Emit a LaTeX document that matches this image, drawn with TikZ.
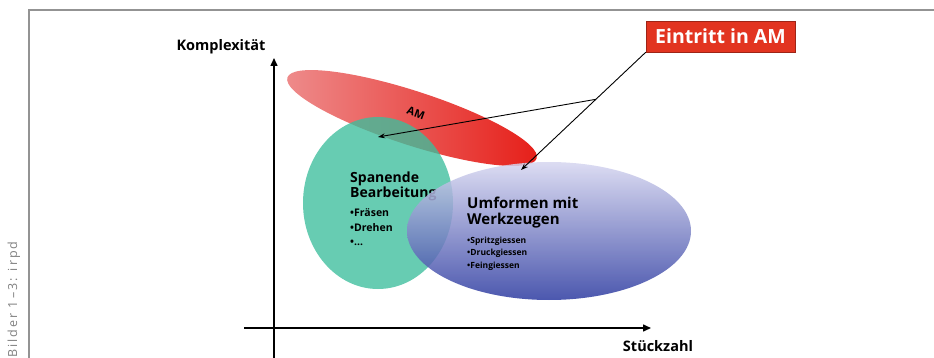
\documentclass[tikz,border=0pt]{standalone}
\usepackage{fontspec}
\setmainfont{Open Sans}
\newfontfamily\creditfont[LetterSpace=16]{Open Sans}
\usetikzlibrary{shapes.geometric,arrows.meta,calc}
\definecolor{amlight}{RGB}{238,140,140}
\definecolor{amdark}{RGB}{230,30,24}
\definecolor{spangreen}{RGB}{60,190,156}
\definecolor{umtop}{RGB}{214,214,240}
\definecolor{umbottom}{RGB}{44,58,160}
\definecolor{boxred}{RGB}{226,52,32}

\begin{document}
\begin{tikzpicture}[x=1pt,y=-1pt,
  blob/.style={ellipse, inner sep=0pt},
  axis/.style={line width=1.5pt, -{Triangle[length=8pt,width=7pt]}},
  pointer/.style={line width=0.9pt, -{Stealth[length=7pt,width=5pt]}},
  title/.style={font=\bfseries\fontsize{15}{15.5}\selectfont, align=left, anchor=west, inner sep=0pt}]
  \useasboundingbox (0,0) rectangle (934,358);
  % frame and credit
  \draw[gray!85, line width=1.2pt] (934,10) -- (29,10) -- (29,358);
  \node[rotate=90, anchor=west, gray, font=\creditfont\fontsize{12.5}{13}\selectfont] (credit) at (14,361) {Bilder 1–3: irpd};

  % the three fields
  \node[blob, rotate=-18, minimum width=262pt, minimum height=54pt,
        left color=amlight, right color=amdark] (am) at (412,118) {};
  \node[rotate=-20, font=\bfseries\fontsize{11}{12}\selectfont] (amlabel) at (416,113) {AM};
  \node[blob, minimum width=150pt, minimum height=172pt,
        fill=spangreen, fill opacity=0.78] (span) at (378,203) {};
  \node[title, font=\bfseries\fontsize{14}{15}\selectfont] (spantitle) at (350,186) {Spanende\\Bearbeitung};
  \foreach \y/\t in {213/Fräsen,228/Drehen,243/\ldots}
    \node[anchor=west, inner sep=0pt, font=\bfseries\fontsize{10.5}{11}\selectfont] at (350,\y) {\textbullet\t};
  \node[blob, minimum width=284pt, minimum height=138pt,
        top color=umtop, bottom color=umbottom, fill opacity=0.85] (umform) at (549,231) {};
  \node[title] (umtitle) at (467,212.5) {Umformen mit\\Werkzeugen};
  \foreach \y/\t in {241/Spritzgiessen,253/Druckgiessen,266/Feingiessen}
    \node[anchor=west, inner sep=0pt, font=\bfseries\fontsize{8.5}{9}\selectfont] at (467,\y) {\textbullet\t};

  % axes
  \coordinate (ybottom) at (274,358);
  \coordinate (ytop) at (274,58);
  \coordinate (xleft) at (244,328);
  \coordinate (xright) at (651,328);
  \draw[axis] (ybottom) -- (ytop);
  \draw[axis] (xleft) -- (xright);
  \node[font=\bfseries\fontsize{14.5}{15}\selectfont] (ylabel) at (221,47) {Komplexität};
  \node[font=\bfseries\fontsize{14.5}{15}\selectfont] (xlabel) at (658,346) {Stückzahl};

  % entry into AM
  \node[fill=boxred, draw=boxred!70!black, text=white, font=\bfseries\fontsize{19.5}{20}\selectfont,
        minimum width=149pt, minimum height=31pt, inner sep=0pt] (entry) at (720.5,36.5) {Eintritt in AM};
  \coordinate (umtip) at (521,170);
  \coordinate (spantip) at (378,137);
  \coordinate (junction) at ($(entry.south west)!0.4!(umtip)$);
  \draw[pointer] (entry.south west) -- (umtip);
  \draw[pointer] (junction) -- (spantip);
\end{tikzpicture}
\end{document}
